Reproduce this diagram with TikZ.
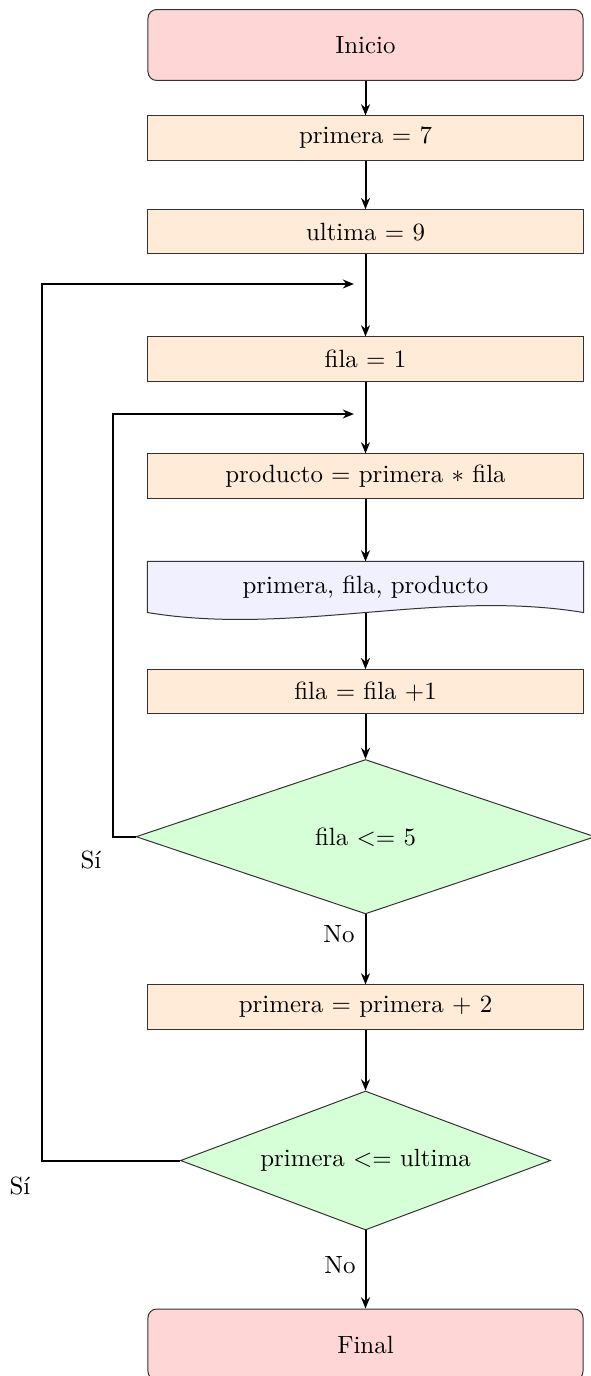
\documentclass[tikz,border=0pt]{standalone}
\usepackage{fontspec}
\usetikzlibrary{shapes.geometric,arrows.meta,calc,backgrounds}
\definecolor{termfill}{HTML}{FFD6D6}
\definecolor{procfill}{HTML}{FFEBD7}
\definecolor{docfill}{HTML}{F0F0FF}
\definecolor{decfill}{HTML}{D7FFD7}
\begin{document}
\begin{tikzpicture}[x=0.4016pt,y=-0.4016pt,
  term/.style={rectangle,rounded corners=3.5pt,draw=black!80,fill=termfill,minimum width=174.7pt,minimum height=28.5pt,inner sep=0pt},
  proc/.style={rectangle,draw=black!80,fill=procfill,minimum width=174.7pt,minimum height=17.7pt,inner sep=0pt},
  docbox/.style={rectangle,minimum width=174.7pt,minimum height=20.1pt,inner sep=0pt},
  docline/.style={draw=black!80,fill=docfill},
  dec/.style={diamond,draw=black!80,fill=decfill,inner sep=0pt},
  conn/.style={thick,-{Stealth[length=4.5pt,width=3.6pt]}},
  lbl/.style={inner sep=0pt}
]
\useasboundingbox (0,0) rectangle (590,1376);

\node[term] (ini) at (365.5,45) {Inicio};
\node[proc] (p7) at (365.5,138) {primera $=$ 7};
\node[proc] (u9) at (365.5,231.7) {ultima $=$ 9};
\node[proc] (f1) at (365.5,359) {fila $=$ 1};
\node[proc] (prod) at (365.5,476) {producto $=$ primera $*$ fila};
\node[docbox] (doc) at (365.5,587) {primera, fila, producto};
\begin{pgfonlayer}{background}
\path[docline] (doc.north west) -- (doc.north east) -- (doc.south east)
  .. controls ($(doc.south east)+(-145,-24)$) and ($(doc.south west)+(145,24)$) .. (doc.south west) -- cycle;
\end{pgfonlayer}
\node[proc] (finc) at (365.5,691.7) {fila $=$ fila $+1$};
\node[dec,shape aspect=2.97,minimum width=184.3pt,minimum height=62pt] (d1) at (365.5,836.7) {fila $<=$ 5};
\node[proc] (p2) at (365.5,1007) {primera $=$ primera $+$ 2};
\node[dec,shape aspect=2.66,minimum width=148.6pt,minimum height=55.8pt] (d2) at (365.5,1160.5) {primera $<=$ ultima};
\node[term] (fin) at (365.5,1344.5) {Final};

\coordinate (j1) at (354,284);
\coordinate (j2) at (354,414);
\coordinate (c1) at (42,284);
\coordinate (c2) at (113,414);

\draw[conn] (ini) -- (p7);
\draw[conn] (p7) -- (u9);
\draw[conn] (u9) -- (f1);
\draw[conn] (f1) -- (prod);
\draw[conn] (prod) -- (doc);
\draw[conn] (doc.south) -- (finc);
\draw[conn] (finc) -- (d1);
\draw[conn] (d1) -- (p2);
\draw[conn] (p2) -- (d2);
\draw[conn] (d2) -- (fin);
\draw[conn] (d1.west) -| (c2) -- (j2);
\draw[conn] (d2.west) -| (c1) -- (j1);

\node[lbl] (si1) at (91,860) {Sí};
\node[lbl] (no1) at (339,934) {No};
\node[lbl] (si2) at (20,1186) {Sí};
\node[lbl] (no2) at (340,1265) {No};
\end{tikzpicture}
\end{document}
